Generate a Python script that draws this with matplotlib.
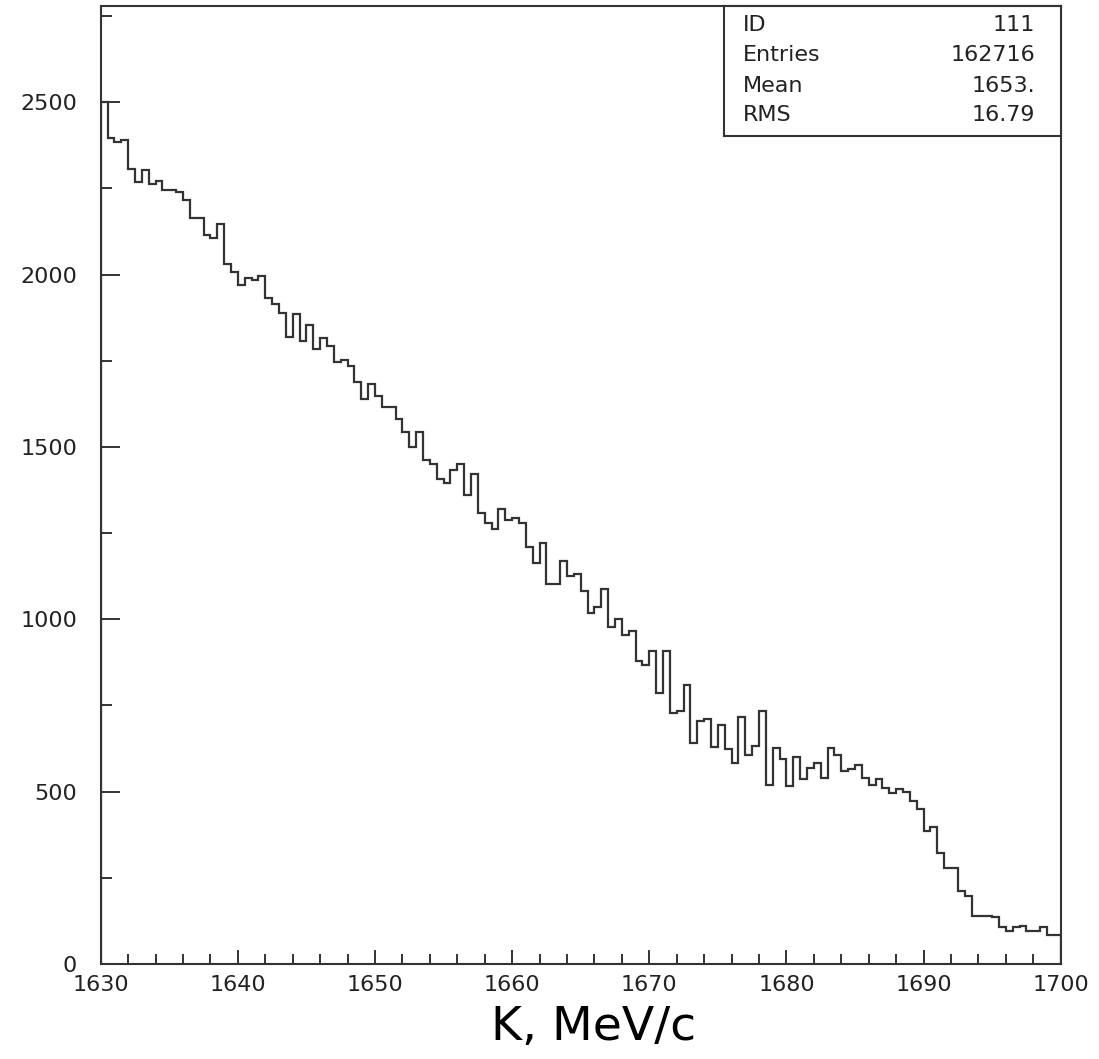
import numpy as np
import matplotlib
matplotlib.use("Agg")
import matplotlib.pyplot as plt
import matplotlib.ticker as ticker

# Histogram ID 111: K momentum, 140 bins of 0.5 MeV/c between 1630 and 1700
x_lo, x_hi, n_bins = 1630.0, 1700.0, 140

counts_a = [2500, 2396, 2385, 2391, 2307, 2268, 2304, 2262, 2271, 2246,
            2244, 2239, 2217, 2164, 2164, 2116, 2106, 2147, 2031, 2007,
            1971, 1990, 1985, 1997, 1932, 1915]
counts_b = [1890, 1820, 1886, 1808, 1855, 1784, 1815, 1792, 1745, 1752,
            1734, 1687, 1639, 1682, 1648, 1617, 1617, 1580, 1542, 1500,
            1542, 1461, 1450, 1407]
counts_c = [1396, 1432, 1450, 1360, 1421, 1309, 1280, 1263, 1321, 1287,
            1293, 1280, 1210, 1164, 1222, 1101, 1101, 1169, 1125, 1130,
            1081, 1018, 1036, 1089]
counts_d = [978, 1001, 955, 967, 880, 868, 909, 786, 909, 728,
            735, 810, 641, 705, 711, 629, 694, 623, 582, 718,
            607, 631, 735, 520]
counts_e = [628, 594, 515, 600, 537, 570, 582, 541, 628, 607,
            560, 566, 576, 541, 520, 537, 512, 495, 507, 500,
            473, 450, 385, 397, 322]
counts_f = [279, 279, 211, 198, 140, 140, 140, 135, 106, 95,
            108, 110, 95, 95, 106, 83, 83]

stat_names = ["ID", "Entries", "Mean", "RMS"]
stat_values = ["111", "162716", "1653.", "16.79"]

x_label = "K, MeV/c"
y_max = 2780

INK = "#333333"

counts = np.array(counts_a + counts_b + counts_c + counts_d + counts_e + counts_f)
edges = np.linspace(x_lo, x_hi, n_bins + 1)

fig = plt.figure(figsize=(10.99, 10.59), dpi=100)
ax = fig.add_axes([0.0916, 0.0897, 0.8736, 0.9049])

ax.stairs(counts, edges, color=INK, lw=1.6, baseline=0)

ax.set_xlim(x_lo, x_hi)
ax.set_ylim(0, y_max)

ax.xaxis.set_major_locator(ticker.MultipleLocator(10))
ax.xaxis.set_minor_locator(ticker.MultipleLocator(2))
ax.yaxis.set_major_locator(ticker.MultipleLocator(500))
ax.yaxis.set_minor_locator(ticker.MultipleLocator(250))

ax.tick_params(axis="both", which="both", direction="in", color=INK,
               width=1.4, labelsize=16, labelcolor="#222222",
               top=False, right=False)
ax.tick_params(axis="x", which="major", length=10, pad=8)
ax.tick_params(axis="x", which="minor", length=7)
ax.tick_params(axis="y", which="major", length=13.5, pad=17)
ax.tick_params(axis="y", which="minor", length=8)

for sp in ax.spines.values():
    sp.set_color(INK)
    sp.set_linewidth(1.5)

ax.set_xlabel(x_label, fontsize=34, color="black")
ax.xaxis.set_label_coords(0.513, -0.043)

# statistics box in the top right corner
sbox = fig.add_axes([724 / 1099, 1 - 136 / 1059, 336.7 / 1099, 130.3 / 1059])
sbox.set_xticks([])
sbox.set_yticks([])
sbox.set_facecolor("white")
for sp in sbox.spines.values():
    sp.set_color(INK)
    sp.set_linewidth(1.5)
rows_y = [0.852, 0.622, 0.384, 0.161]
for name, val, yy in zip(stat_names, stat_values, rows_y):
    sbox.text(0.056, yy, name, ha="left", va="center", fontsize=16,
              color="#222222", transform=sbox.transAxes)
    sbox.text(0.924, yy, val, ha="right", va="center", fontsize=16,
              color="#222222", transform=sbox.transAxes)

fig.savefig("out.png", dpi=100)
